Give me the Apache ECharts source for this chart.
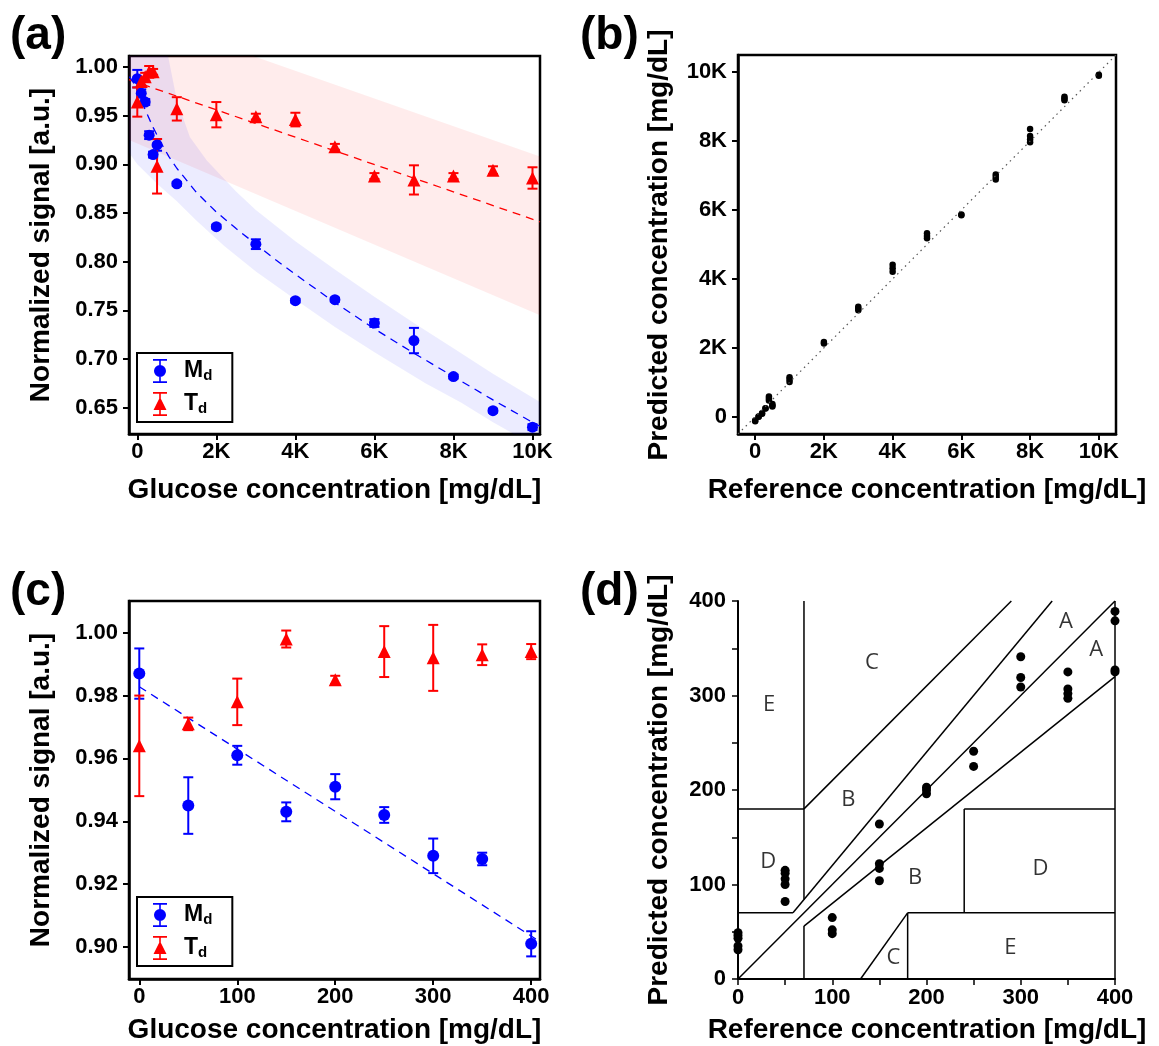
<!DOCTYPE html>
<html>
<head>
<meta charset="utf-8">
<script src="https://cdn.jsdelivr.net/npm/echarts@6/dist/echarts.min.js"></script>
<style>
html, body { margin: 0; padding: 0; background: #fff; }
#main { width: 1159px; height: 1046px; }
</style>
</head>
<body>
<div id="main"></div>
<script>
// ---- panel (a): full range response ----
var aX = [0, 100, 200, 300, 400, 500, 1000, 2000, 3000, 4000, 5000, 6000, 7000, 8000, 9000, 10000];
var aMdY = [0.988, 0.973, 0.964, 0.930, 0.910, 0.920, 0.880, 0.836, 0.818, 0.760, 0.761, 0.737, 0.719, 0.682, 0.647, 0.630];
var aMdErr = [0.009, 0.004, 0.003, 0.004, 0.003, 0.006, 0.002, 0.002, 0.005, 0.002, 0.002, 0.004, 0.013, 0.002, 0.002, 0.003];
var aTdY = [0.964, 0.985, 0.990, 0.995, 0.995, 0.898, 0.957, 0.951, 0.949, 0.946, 0.918, 0.888, 0.884, 0.888, 0.894, 0.886];
var aTdErr = [0.015, 0.004, 0.004, 0.006, 0.003, 0.028, 0.012, 0.013, 0.003, 0.007, 0.003, 0.003, 0.015, 0.003, 0.004, 0.011];

var aMdFitX = [-200, -100, 0, 200, 400, 600, 800, 1000, 1500, 2000, 2500, 3000, 3500, 4000, 5000, 6000, 7000, 8000, 9000, 10000, 10190];
var aMdFitY = [0.990, 0.984, 0.976, 0.956, 0.938, 0.922, 0.908, 0.896, 0.871, 0.851, 0.834, 0.818, 0.802, 0.787, 0.758, 0.731, 0.706, 0.682, 0.658, 0.635, 0.631];
var aTdFitX = [-210, 10190];
var aTdFitY = [0.987, 0.841];

var aMdBandHiX = [-210, 0, 250, 500, 650, 780, 1000, 1330, 1760, 2500, 3000, 4000, 5000, 6000, 7000, 8000, 9000, 10190];
var aMdBandHi = [1.40, 1.32, 1.24, 1.15, 1.05, 1.011, 0.966, 0.928, 0.904, 0.872, 0.853, 0.821, 0.792, 0.764, 0.737, 0.711, 0.685, 0.656];
var aMdBandLoX = [-210, 0, 250, 500, 1000, 1500, 2200, 3000, 3900, 5000, 6000, 7300, 8200, 9000, 10190];
var aMdBandLo = [0.912, 0.900, 0.890, 0.880, 0.862, 0.842, 0.816, 0.790, 0.764, 0.733, 0.707, 0.675, 0.655, 0.635, 0.608];
var aTdBandX = [-210, 10190];
var aTdBandHi = [1.056, 0.908];
var aTdBandLo = [0.925, 0.745];

// ---- panel (b): predicted vs reference ----
var bRef = [0, 0, 100, 100, 200, 200, 300, 300, 400, 400, 400, 500, 500, 500,
  1000, 1000, 1000, 2000, 2000, 3000, 3000, 3000, 4000, 4000, 4000,
  5000, 5000, 5000, 6000, 6000, 7000, 7000, 7000, 8000, 8000, 8000, 8000,
  9000, 9000, 9000, 10000, 10000];
var bPred = [-130, -110, 0, 10, 90, 100, 240, 250, 590, 530, 470, 370, 330, 300,
  1150, 1080, 1010, 2170, 2130, 3190, 3140, 3090, 4410, 4310, 4210,
  5330, 5250, 5180, 5870, 5850, 7030, 6960, 6890, 8350, 8150, 8050, 7970,
  9290, 9240, 9190, 9930, 9900];
var bDiagX = [-500, 10500];

// ---- panel (c): low range response ----
var cX = [0, 50, 100, 150, 200, 250, 300, 350, 400];
var cMdY = [0.987, 0.945, 0.961, 0.943, 0.951, 0.942, 0.929, 0.928, 0.901];
var cMdErr = [0.008, 0.009, 0.003, 0.003, 0.004, 0.0025, 0.0055, 0.002, 0.004];
var cTdY = [0.964, 0.971, 0.978, 0.998, 0.985, 0.994, 0.992, 0.993, 0.994];
var cTdErr = [0.016, 0.002, 0.0074, 0.0027, 0.0013, 0.0081, 0.0105, 0.0033, 0.0024];
var cMdFitX = [0, 409];
var cMdFitY = [0.9828, 0.9017];

// ---- panel (d): Clarke error grid ----
var dRef = [0, 0, 0, 0, 0, 50, 50, 50, 50, 50, 100, 100, 100, 150, 150, 150, 150,
  200, 200, 200, 250, 250, 300, 300, 300, 350, 350, 350, 350, 400, 400, 400, 400];
var dPred = [49, 46, 43, 35, 31, 115, 112, 106, 100, 82, 65, 52, 48, 164, 122, 117, 104,
  203, 200, 196, 241, 225, 341, 319, 309, 325, 307, 302, 297, 389, 379, 327, 325];
var dZoneLines = [
  [[0, 0], [400, 400]],
  [[0, 70], [58.33, 70]],
  [[58.33, 70], [333.33, 400]],
  [[70, 84], [70, 400]],
  [[0, 180], [70, 180]],
  [[70, 180], [290, 400]],
  [[70, 0], [70, 56]],
  [[70, 56], [400, 320]],
  [[130, 0], [180, 70]],
  [[180, 0], [180, 70]],
  [[180, 70], [400, 70]],
  [[240, 70], [240, 180]],
  [[240, 180], [400, 180]],
  [[400, 0], [400, 400]]
];
var dZoneNames = ['A', 'A', 'B', 'B', 'C', 'C', 'D', 'D', 'E', 'E'];
var dZoneX = [348, 380, 117, 188, 142, 165, 32, 321, 33, 289];
var dZoneY = [378, 348, 190, 107, 335, 23, 124, 117, 290, 33];

var FONT = 'Liberation Sans, Arial, sans-serif';
var BLUE = '#0000ff';
var RED = '#ff0000';

function zip(xs, ys) {
  return xs.map(function (x, i) { return [x, ys[i]]; });
}
function kFmt(v) {
  return v === 0 ? '0' : (v / 1000) + 'K';
}

function bandSeries(gi, hiX, hi, loX, lo, color) {
  return {
    type: 'custom', xAxisIndex: gi, yAxisIndex: gi, clip: true, silent: true, z: 1,
    data: [[loX[0], lo[0]]],
    renderItem: function (params, api) {
      var pts = [];
      for (var i = 0; i < hiX.length; i++) pts.push(api.coord([hiX[i], hi[i]]));
      for (var j = loX.length - 1; j >= 0; j--) pts.push(api.coord([loX[j], lo[j]]));
      return { type: 'polygon', shape: { points: pts }, style: { fill: color } };
    }
  };
}

function errSeries(gi, xs, ys, es, color) {
  return {
    type: 'custom', xAxisIndex: gi, yAxisIndex: gi, silent: true, z: 3,
    data: xs.map(function (x, i) { return [x, ys[i] - es[i], ys[i] + es[i]]; }),
    encode: { x: 0, y: [1, 2] },
    renderItem: function (params, api) {
      var top = api.coord([api.value(0), api.value(2)]);
      var bot = api.coord([api.value(0), api.value(1)]);
      var hw = 5;
      var st = { stroke: color, lineWidth: 2 };
      return {
        type: 'group', children: [
          { type: 'line', shape: { x1: top[0], y1: top[1], x2: bot[0], y2: bot[1] }, style: st },
          { type: 'line', shape: { x1: top[0] - hw, y1: top[1], x2: top[0] + hw, y2: top[1] }, style: st },
          { type: 'line', shape: { x1: bot[0] - hw, y1: bot[1], x2: bot[0] + hw, y2: bot[1] }, style: st }
        ]
      };
    }
  };
}

function pointSeries(gi, name, xs, ys, symbol, size, color) {
  return {
    type: 'scatter', name: name, xAxisIndex: gi, yAxisIndex: gi, z: 4,
    symbol: symbol, symbolSize: size,
    itemStyle: { color: color, opacity: 1 },
    data: zip(xs, ys)
  };
}

function fitSeries(gi, xs, ys, color) {
  return {
    type: 'line', xAxisIndex: gi, yAxisIndex: gi, z: 2, silent: true,
    symbol: 'none', smooth: false,
    lineStyle: { color: color, width: 1.3, type: [8, 6] },
    data: zip(xs, ys)
  };
}

var labelStyle = { color: '#000', fontWeight: 'bold', fontSize: 22, fontFamily: FONT };

function valAxis(gi, min, max, ticks, fmt, isY) {
  return {
    type: 'value', gridIndex: gi, min: min, max: max,
    axisLine: { show: true, onZero: false, lineStyle: { color: '#000', width: 2.5 } },
    axisTick: { show: true, length: 6, customValues: ticks, lineStyle: { color: '#000', width: 2 } },
    axisLabel: Object.assign({ customValues: ticks, formatter: fmt, margin: isY ? 11 : 7 }, labelStyle),
    splitLine: { show: false }
  };
}

function twoDec(v) { return v.toFixed(2); }

var iconMd = 'path://M6.2,0H7.8V24H6.2Z M0,0H14V1.8H0Z M0,22.2H14V24H0Z M1,12A6,6 0 1 1 13,12A6,6 0 1 1 1,12Z';
var iconTd = 'path://M6.2,0H7.8V24H6.2Z M0,0H14V1.8H0Z M0,22.2H14V24H0Z M7,5L13.5,18L0.5,18Z';

function legendAt(top) {
  return {
    orient: 'vertical', left: 137, top: top,
    data: [{ name: 'Md', icon: iconMd }, { name: 'Td', icon: iconTd }],
    itemWidth: 14, itemHeight: 24, itemGap: 9,
    padding: [6, 20, 6, 16],
    borderColor: '#000', borderWidth: 2, selectedMode: false,
    formatter: function (n) { return '{m|' + n.charAt(0) + '}{s|' + n.charAt(1) + '}'; },
    textStyle: {
      padding: [0, 0, 0, 12],
      rich: {
        m: { fontSize: 23, fontWeight: 'bold', fontFamily: FONT, color: '#000', lineHeight: 24 },
        s: { fontSize: 15, fontWeight: 'bold', fontFamily: FONT, color: '#000', lineHeight: 14, verticalAlign: 'bottom' }
      }
    }
  };
}

function title(text, x, y) {
  return { type: 'text', left: x, top: y, style: { text: text, font: 'bold 46px ' + FONT, fill: '#000' } };
}
function xName(text, cx, cy) {
  return { type: 'text', x: cx, y: cy, style: { text: text, font: 'bold 28px ' + FONT, fill: '#000', align: 'center', verticalAlign: 'middle' } };
}
function yName(text, cx, cy) {
  return { type: 'text', x: cx, y: cy, rotation: Math.PI / 2, style: { text: text, font: 'bold 28px ' + FONT, fill: '#000', align: 'center', verticalAlign: 'middle' } };
}

var chart = echarts.init(document.getElementById('main'));

var gridBox = { show: true, borderColor: '#000', borderWidth: 2.5, backgroundColor: 'transparent' };

var option = {
  animation: false,
  backgroundColor: '#fff',
  textStyle: { fontFamily: FONT },
  grid: [
    Object.assign({ left: 129, top: 56, width: 411, height: 378 }, gridBox),
    Object.assign({ left: 738, top: 55, width: 378, height: 379 }, gridBox),
    Object.assign({ left: 129, top: 601, width: 411, height: 378 }, gridBox),
    { left: 738, top: 601, width: 377, height: 378, show: false }
  ],
  xAxis: [
    valAxis(0, -210, 10190, [0, 2000, 4000, 6000, 8000, 10000], kFmt, false),
    valAxis(1, -500, 10500, [0, 2000, 4000, 6000, 8000, 10000], kFmt, false),
    valAxis(2, -10.5, 409, [0, 100, 200, 300, 400], null, false),
    {
      type: 'value', gridIndex: 3, min: 0, max: 400, interval: 50,
      axisLine: { show: true, lineStyle: { color: '#000', width: 2 } },
      axisTick: { show: true, length: 6, lineStyle: { color: '#000', width: 1.5 } },
      axisLabel: Object.assign({ margin: 8, formatter: function (v) { return v % 100 === 0 ? v : ''; } }, labelStyle),
      splitLine: { show: false }
    }
  ],
  yAxis: [
    valAxis(0, 0.623, 1.0113, [0.65, 0.70, 0.75, 0.80, 0.85, 0.90, 0.95, 1.00], twoDec, true),
    valAxis(1, -500, 10500, [0, 2000, 4000, 6000, 8000, 10000], kFmt, true),
    valAxis(2, 0.8898, 1.0101, [0.90, 0.92, 0.94, 0.96, 0.98, 1.00], twoDec, true),
    {
      type: 'value', gridIndex: 3, min: 0, max: 400, interval: 50,
      axisLine: { show: true, lineStyle: { color: '#000', width: 2 } },
      axisTick: { show: true, length: 6, lineStyle: { color: '#000', width: 1.5 } },
      axisLabel: Object.assign({ margin: 12, formatter: function (v) { return v % 100 === 0 ? v : ''; } }, labelStyle),
      splitLine: { show: false }
    }
  ],
  legend: [legendAt(353), legendAt(897)],
  graphic: [
    title('(a)', 10, 13), title('(b)', 580, 13), title('(c)', 10, 569), title('(d)', 580, 569),
    xName('Glucose concentration [mg/dL]', 334.5, 490),
    xName('Reference concentration [mg/dL]', 927, 490),
    xName('Glucose concentration [mg/dL]', 334.5, 1030),
    xName('Reference concentration [mg/dL]', 927, 1030),
    yName('Normalized signal [a.u.]', 41, 245),
    yName('Predicted concentration [mg/dL]', 659, 245),
    yName('Normalized signal [a.u.]', 41, 790),
    yName('Predicted concentration [mg/dL]', 659, 790)
  ],
  series: []
};

var s = option.series;
// (a)
s.push(bandSeries(0, aTdBandX, aTdBandHi, aTdBandX, aTdBandLo, 'rgba(255,0,0,0.075)'));
s.push(bandSeries(0, aMdBandHiX, aMdBandHi, aMdBandLoX, aMdBandLo, 'rgba(0,0,255,0.075)'));
s.push(fitSeries(0, aTdFitX, aTdFitY, RED));
s.push(fitSeries(0, aMdFitX, aMdFitY, BLUE));
s.push(errSeries(0, aX, aMdY, aMdErr, BLUE));
s.push(errSeries(0, aX, aTdY, aTdErr, RED));
s.push(pointSeries(0, 'Md', aX, aMdY, 'circle', 11, BLUE));
s.push(pointSeries(0, 'Td', aX, aTdY, 'triangle', 13, RED));
// (b)
s.push({
  type: 'line', xAxisIndex: 1, yAxisIndex: 1, symbol: 'none', silent: true,
  lineStyle: { color: '#555', width: 1.2, type: [1.5, 4] },
  data: zip(bDiagX, bDiagX)
});
s.push({
  type: 'scatter', xAxisIndex: 1, yAxisIndex: 1, symbol: 'circle', symbolSize: 6.5,
  itemStyle: { color: '#000', opacity: 1 }, data: zip(bRef, bPred)
});
// (c)
s.push(fitSeries(2, cMdFitX, cMdFitY, BLUE));
s.push(errSeries(2, cX, cMdY, cMdErr, BLUE));
s.push(errSeries(2, cX, cTdY, cTdErr, RED));
s.push(pointSeries(2, 'Md', cX, cMdY, 'circle', 12, BLUE));
s.push(pointSeries(2, 'Td', cX, cTdY, 'triangle', 13, RED));
// (d)
dZoneLines.forEach(function (seg) {
  s.push({
    type: 'line', xAxisIndex: 3, yAxisIndex: 3, symbol: 'none', silent: true, clip: false,
    lineStyle: { color: '#000', width: 1.5 }, data: seg
  });
});
s.push({
  type: 'scatter', xAxisIndex: 3, yAxisIndex: 3, symbolSize: 0, silent: true,
  label: { show: true, position: 'inside', formatter: '{b}', color: '#000', fontSize: 22, fontFamily: 'Open Sans, sans-serif' },
  data: dZoneX.map(function (x, i) { return { name: dZoneNames[i], value: [x, dZoneY[i]] }; })
});
s.push({
  type: 'scatter', xAxisIndex: 3, yAxisIndex: 3, symbol: 'circle', symbolSize: 9, z: 4,
  itemStyle: { color: '#000', opacity: 1 }, data: zip(dRef, dPred)
});

chart.setOption(option);
</script>
</body>
</html>
